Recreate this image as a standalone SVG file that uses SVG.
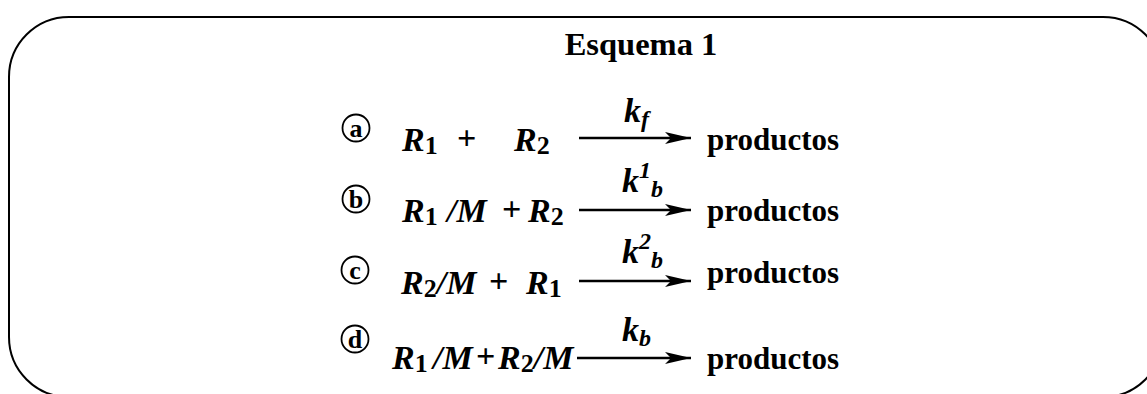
<svg xmlns="http://www.w3.org/2000/svg" width="1147" height="394" viewBox="0 0 1147 394">
<defs>
<style>
.t{font-family:"Liberation Serif","Times New Roman",serif;font-weight:bold;fill:#000}
.i{font-style:italic}
.lbl{font-size:26px}
.eq{font-size:34px}
.pr{font-size:31px}
.sub{font-size:26px;font-style:normal}
.ks{font-size:24px}
.cir{fill:none;stroke:#000;stroke-width:1.8}
.arr{stroke:#000;stroke-width:2.6;fill:none}
</style>
<marker id="ah" markerWidth="28" markerHeight="14" refX="26" refY="7" orient="auto" markerUnits="userSpaceOnUse">
<path d="M0,1 L26,7 L0,13 L6,7 Z" fill="#000"/>
</marker>
</defs>
<rect x="9" y="17" width="1154" height="380" rx="60" ry="60" fill="none" stroke="#000" stroke-width="2"/>
<g id="title"><text class="t" x="641" y="55" font-size="32.5" text-anchor="middle">Esquema 1</text></g>

<g id="row-a">
<circle class="cir" cx="356" cy="128" r="13.5"/>
<text class="t lbl" x="356" y="137" text-anchor="middle">a</text>
<text class="t i eq" x="402" y="151">R<tspan class="sub" dy="3">1</tspan></text>
<text class="t eq" x="457" y="149">+</text>
<text class="t i eq" x="514" y="151">R<tspan class="sub" dy="3">2</tspan></text>
<text class="t i eq" x="624" y="122">k<tspan class="ks" dy="5">f</tspan></text>
<text class="t pr" x="707" y="150">productos</text>
</g>

<g id="row-b">
<circle class="cir" cx="356" cy="199" r="13.5"/>
<text class="t lbl" x="356" y="208" text-anchor="middle">b</text>
<text class="t i eq" x="402" y="222">R<tspan class="sub" dy="3">1</tspan></text>
<text class="t i eq" x="447" y="222">/M</text>
<text class="t eq" x="502" y="220">+</text>
<text class="t i eq" x="528" y="222">R<tspan class="sub" dy="3">2</tspan></text>
<text class="t i eq" x="622" y="192">k<tspan class="ks" dy="-14" font-size="21">1</tspan><tspan class="ks" dy="19">b</tspan></text>
<text class="t pr" x="707" y="221">productos</text>
</g>

<g id="row-c">
<circle class="cir" cx="355" cy="270" r="13.5"/>
<text class="t lbl" x="355" y="279" text-anchor="middle">c</text>
<text class="t i eq" x="401" y="294">R<tspan class="sub" dy="3">2</tspan><tspan dy="-3" font-style="italic" font-size="34">/M</tspan></text>
<text class="t eq" x="489" y="292">+</text>
<text class="t i eq" x="526" y="294">R<tspan class="sub" dy="3">1</tspan></text>
<text class="t i eq" x="622" y="263">k<tspan class="ks" dy="-14" font-size="21">2</tspan><tspan class="ks" dy="19">b</tspan></text>
<text class="t pr" x="707" y="283">productos</text>
</g>

<g id="row-d">
<circle class="cir" cx="355" cy="339" r="13.5"/>
<text class="t lbl" x="355" y="348" text-anchor="middle">d</text>
<text class="t i eq" x="392" y="369">R<tspan class="sub" dy="3">1</tspan></text>
<text class="t i eq" x="433" y="369">/M</text>
<text class="t eq" x="476" y="367" font-weight="normal">+</text>
<text class="t i eq" x="498" y="369">R<tspan class="sub" dy="3">2</tspan><tspan dy="-3" font-style="italic" font-size="34">/M</tspan></text>
<text class="t i eq" x="622" y="341">k<tspan class="ks" dy="5">b</tspan></text>
<text class="t pr" x="707" y="369">productos</text>
</g>

<g id="connectors">
<line class="arr" x1="579" y1="138" x2="691" y2="138" marker-end="url(#ah)"/>
<line class="arr" x1="579" y1="210" x2="691" y2="210" marker-end="url(#ah)"/>
<line class="arr" x1="579" y1="281" x2="691" y2="281" marker-end="url(#ah)"/>
<line class="arr" x1="577" y1="358" x2="691" y2="358" marker-end="url(#ah)"/>
</g>
</svg>
